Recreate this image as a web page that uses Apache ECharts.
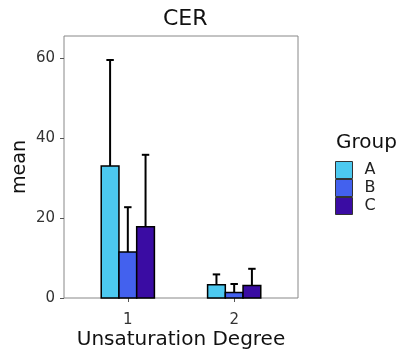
<!DOCTYPE html>
<html>
<head>
<meta charset="utf-8">
<script src="https://cdn.jsdelivr.net/npm/echarts@6/dist/echarts.min.js"></script>
<style>
  html, body { margin: 0; padding: 0; background: #fff; }
  #cer { width: 400px; height: 350px; }
</style>
</head>
<body>
<div id="cer"></div>
<script>
// values
var categories = [1, 2];
var groups = ['A', 'B', 'C'];
var colors = ['#4cc9f0', '#4361ee', '#3a0ca3'];
var meanA = [33.0, 3.3];
var meanB = [11.5, 1.4];
var meanC = [17.8, 3.1];
var upperA = [59.5, 5.9];
var upperB = [22.7, 3.5];
var upperC = [35.8, 7.3];
var yTicks = [0, 20, 40, 60];

var means = [meanA, meanB, meanC];
var uppers = [upperA, upperB, upperC];
var dodge = 0.5;            // total width of one group of bars (x units)
var barW = dodge / groups.length;
var capHalf = 0.035;

function makeSeries(g) {
  var data = categories.map(function (c, i) {
    return [c, means[g][i], uppers[g][i]];
  });
  return {
    name: groups[g],
    type: 'custom',
    itemStyle: { color: colors[g], borderColor: '#000', borderWidth: 1.5 },
    data: data,
    renderItem: function (params, api) {
      var x = api.value(0), y = api.value(1), up = api.value(2);
      var x0 = x - dodge / 2 + g * barW;
      var xc = x0 + barW / 2;
      var tl = api.coord([x0, y]);
      var br = api.coord([x0 + barW, 0]);
      var top = api.coord([xc, up]);
      var mid = api.coord([xc, y]);
      var cl = api.coord([xc - capHalf, up]);
      var cr = api.coord([xc + capHalf, up]);
      return {
        type: 'group',
        children: [
          { type: 'line', shape: { x1: mid[0], y1: mid[1], x2: top[0], y2: top[1] },
            style: { stroke: '#000', lineWidth: 2 } },
          { type: 'line', shape: { x1: cl[0], y1: cl[1], x2: cr[0], y2: cr[1] },
            style: { stroke: '#000', lineWidth: 2 } },
          { type: 'rect', shape: { x: tl[0], y: tl[1], width: br[0] - tl[0], height: br[1] - tl[1] },
            style: { fill: api.visual('color'), stroke: '#000', lineWidth: 1.5 } }
        ]
      };
    }
  };
}

var chart = echarts.init(document.getElementById('cer'));
chart.setOption({
  animation: false,
  textStyle: { fontFamily: 'DejaVu Sans' },
  title: [
    { text: 'CER', left: 158, top: 3,
      textStyle: { fontSize: 22, fontWeight: 'normal', color: '#111' } },
    { text: 'Group', left: 331, top: 128,
      textStyle: { fontSize: 20, fontWeight: 'normal', color: '#111' } }
  ],
  legend: {
    orient: 'vertical', left: 330, top: 156,
    itemWidth: 17, itemHeight: 17, itemGap: 0,
    icon: 'rect',
    itemStyle: { borderColor: '#333', borderWidth: 1 },
    textStyle: { fontSize: 16, color: '#222', padding: [0, 0, 0, 7] },
    data: groups
  },
  grid: { left: 64, right: 102, top: 36, bottom: 52, show: true,
    outerBoundsMode: 'none', containLabel: false,
    borderColor: '#888', borderWidth: 1, backgroundColor: '#fff' },
  xAxis: {
    type: 'value', min: 0.4, max: 2.6,
    name: 'Unsaturation Degree', nameLocation: 'middle', nameGap: 32,
    nameMoveOverlap: false,
    nameTextStyle: { fontSize: 20, color: '#111' },
    axisLine: { show: false },
    axisTick: { show: true, length: 4, customValues: categories, lineStyle: { color: '#555' } },
    axisLabel: { customValues: categories, margin: 15, fontSize: 15, color: '#333' },
    splitLine: { show: false }
  },
  yAxis: {
    type: 'value', min: 0, max: 65.5,
    name: 'mean', nameLocation: 'middle', nameGap: 34, nameRotate: 90,
    nameMoveOverlap: false,
    nameTextStyle: { fontSize: 19, color: '#111' },
    axisLine: { show: false },
    axisTick: { show: true, length: 4, customValues: yTicks, lineStyle: { color: '#555' } },
    axisLabel: { customValues: yTicks, margin: 9, fontSize: 15, color: '#333' },
    splitLine: { show: false }
  },
  series: groups.map(function (g, i) { return makeSeries(i); })
});
</script>
</body>
</html>
